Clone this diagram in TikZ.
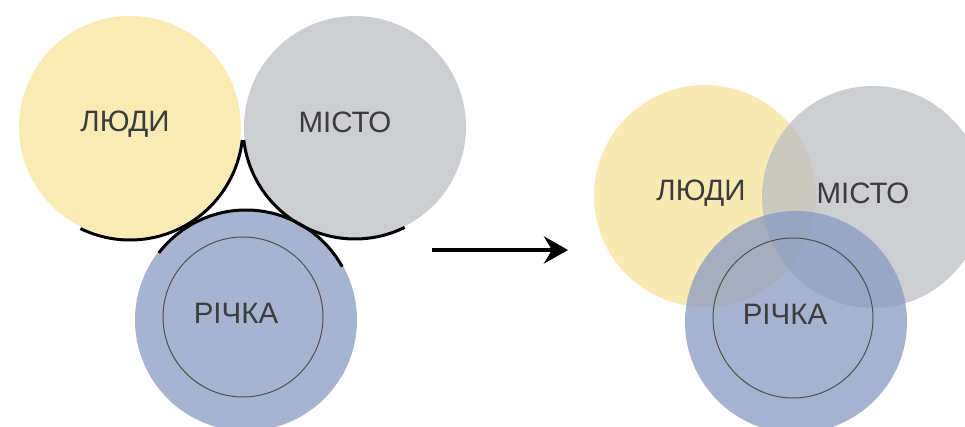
\documentclass[tikz,border=0pt]{standalone}
\usepackage{fontspec}
\setmainfont{Liberation Sans}
\usetikzlibrary{arrows.meta}
\definecolor{cyellow}{RGB}{250,235,180}
\definecolor{cgrey}{RGB}{205,206,210}
\definecolor{cblue}{RGB}{166,179,209}
\definecolor{tyellow}{RGB}{248,228,155}
\definecolor{tgrey}{RGB}{188,190,195}
\definecolor{tblue}{RGB}{136,154,194}
\definecolor{txt}{RGB}{60,60,60}
\definecolor{ring}{RGB}{80,80,80}
\tikzset{
  disc/.style={circle, minimum size=222pt, inner sep=0pt, outer sep=0pt},
  inner ring/.style={circle, minimum size=160pt, inner sep=0pt, draw=ring, line width=1pt},
  lbl/.style={text=txt, font=\fontsize{29.5}{29.5}\selectfont, inner sep=0pt},
  bound/.style={line width=3pt, black},
  see/.style={fill opacity=0.75},
}
\begin{document}
\begin{tikzpicture}[x=1pt,y=1pt]
\clip (0,0) rectangle (965,-427);
\fill[white] (0,0) rectangle (965,-427);
% left: separate circles
\node[disc, fill=cyellow] (ly) at (130,-127) {};
\node[disc, fill=cgrey] (lg) at (355,-127) {};
\node[disc, fill=cblue] (lb) at (246,-320) {};
\node[inner ring] (lr) at (243,-317) {};
\draw[bound] ([shift={(244:113pt)}]ly.center) arc[start angle=244, end angle=353.4, radius=113pt];
\draw[bound] ([shift={(186.7:112pt)}]lg.center) arc[start angle=186.7, end angle=296.3, radius=112pt];
\draw[bound] ([shift={(142.4:110pt)}]lb.center) arc[start angle=142.4, end angle=29, radius=110pt];
\node[lbl] (lyt) at (125,-124) {ЛЮДИ};
\node[lbl] (lgt) at (345,-122) {МІСТО};
\node[lbl] (lbt) at (236,-313) {РІЧКА};
% arrow
\coordinate (as) at (432,-250);
\coordinate (ae) at (568,-250);
\draw[line width=4pt, -{Stealth[length=24pt, width=27pt, inset=8pt]}] (as) -- (ae);
% right: overlapping circles
\node[disc, see, fill=tyellow] (ry) at (705,-196) {};
\node[disc, see, fill=tgrey] (rg) at (873,-197) {};
\node[disc, see, fill=tblue] (rb) at (796,-322) {};
\node[inner ring] (rr) at (793,-318) {};
\node[lbl] (ryt) at (701,-193) {ЛЮДИ};
\node[lbl] (rgt) at (863,-193) {МІСТО};
\node[lbl] (rbt) at (785,-314) {РІЧКА};
\end{tikzpicture}
\end{document}
